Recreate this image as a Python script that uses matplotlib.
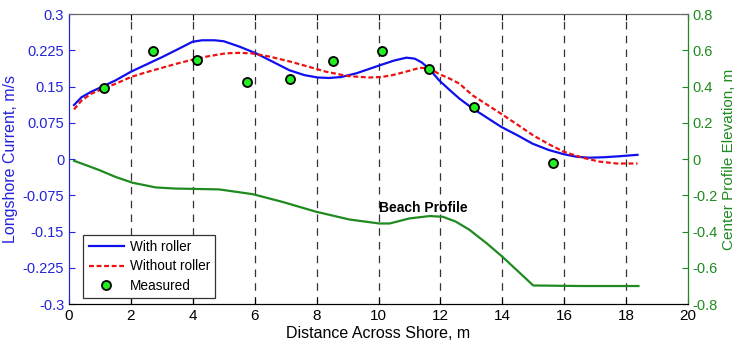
import matplotlib.pyplot as plt
import numpy as np

plt.rcParams['font.family'] = ['Liberation Sans', 'DejaVu Sans']

# with roller (blue)
x_roll = [0.16, 0.4, 0.7, 1.07, 1.5, 2.0, 2.5, 3.0, 3.5, 3.99, 4.3, 4.7, 5.0, 5.5, 6.04, 6.6, 7.12, 7.6, 8.03, 8.4, 8.8, 9.3,
          10.03, 10.5, 10.9, 11.17, 11.4, 11.65, 11.96, 12.3, 12.62, 13.04, 13.5, 13.96, 14.5, 14.98, 15.5, 16.0, 16.4, 16.8,
          17.3, 17.78, 18.37]
v_roll = [0.112, 0.128, 0.139, 0.150, 0.163, 0.181, 0.196, 0.211, 0.227, 0.243, 0.246, 0.246, 0.244, 0.233, 0.219, 0.201,
          0.184, 0.174, 0.169, 0.168, 0.170, 0.178, 0.194, 0.204, 0.210, 0.208, 0.200, 0.186, 0.163, 0.143, 0.125, 0.105,
          0.086, 0.067, 0.049, 0.032, 0.019, 0.010, 0.005, 0.003, 0.004, 0.006, 0.009]

# without roller (red dashed)
x_noroll = [0.16, 0.4, 0.7, 1.07, 1.5, 2.0, 2.5, 3.0, 3.5, 4.0, 4.5, 5.07, 5.5, 5.9, 6.5, 7.2, 7.7, 8.3, 9.0, 9.7, 10.1,
            10.46, 11.0, 11.33, 11.65, 11.96, 12.29, 12.62, 13.04, 13.5, 13.96, 14.5, 14.98, 15.5, 16.0, 16.6, 17.13,
            17.7, 18.37]
v_noroll = [0.103, 0.121, 0.135, 0.145, 0.156, 0.170, 0.180, 0.189, 0.198, 0.206, 0.213, 0.219, 0.220, 0.219, 0.212,
            0.201, 0.192, 0.181, 0.172, 0.169, 0.170, 0.174, 0.183, 0.189, 0.188, 0.176, 0.167, 0.156, 0.132, 0.113,
            0.094, 0.071, 0.050, 0.031, 0.015, 0.003, -0.005, -0.009, -0.009]

# measured (green dots)
x_meas = [1.13, 2.72, 4.12, 5.74, 7.14, 8.54, 10.12, 11.63, 13.1, 15.63]
v_meas = [0.147, 0.223, 0.206, 0.159, 0.165, 0.203, 0.223, 0.186, 0.107, -0.007]

# beach profile (right axis)
x_prof = [0.16, 0.5, 0.97, 1.5, 2.05, 2.8, 3.4, 4.0, 4.85, 5.93, 6.9, 7.98, 9.06, 10.03, 10.36, 11.0, 11.65, 12.08,
          12.5, 12.94, 13.5, 14.0, 15.0, 16.5, 18.4]
z_prof = [-0.009, -0.03, -0.06, -0.098, -0.13, -0.156, -0.162, -0.164, -0.167, -0.193, -0.236, -0.29, -0.333, -0.355,
          -0.355, -0.327, -0.314, -0.318, -0.345, -0.39, -0.465, -0.538, -0.697, -0.700, -0.700]

blue = '#2323d8'
green = '#1f8a1f'

fig = plt.figure(figsize=(7.35, 3.46), dpi=100)
ax = fig.add_axes([0.094, 0.121, 0.842, 0.838])
ax2 = ax.twinx()

for xv in range(2, 20, 2):
    ax.axvline(xv, color='#333333', ls=(0, (6, 5)), lw=0.9, zorder=0)

ax.plot(x_roll, v_roll, color='#1010ee', lw=1.6, label='With roller')
ax.plot(x_noroll, v_noroll, color='#ee1111', lw=1.6, ls=(0, (2.2, 1.2)), label='Without roller')
ax.plot(x_meas, v_meas, 'o', ms=6.5, mfc='#22ee22', mec='black', mew=1.3, label='Measured')
ax2.plot(x_prof, z_prof, color=green, lw=1.6)

ax.text(10.0, -0.101, 'Beach Profile', fontsize=10, fontweight='bold', va='center', ha='left')

ax.set_xlim(0, 20)
ax.set_ylim(-0.3, 0.3)
ax.set_xticks(range(0, 21, 2))
ax.set_yticks([-0.3, -0.225, -0.15, -0.075, 0, 0.075, 0.15, 0.225, 0.3])
ax.set_yticklabels(['-0.3', '-0.225', '-0.15', '-0.075', '0', '0.075', '0.15', '0.225', '0.3'])
ax2.set_ylim(-0.8, 0.8)
ax2.set_yticks([-0.8, -0.6, -0.4, -0.2, 0, 0.2, 0.4, 0.6, 0.8])
ax2.set_yticklabels(['-0.8', '-0.6', '-0.4', '-0.2', '0', '0.2', '0.4', '0.6', '0.8'])

ax.set_xlabel('Distance Across Shore, m', fontsize=11.5, labelpad=2)
ax.set_ylabel('Longshore Current, m/s', fontsize=11.5, color=blue, labelpad=3)
ax2.set_ylabel('Center Profile Elevation, m', fontsize=11, color=green, labelpad=3)

ax.tick_params(axis='x', direction='in', labelsize=11, length=4, top=True)
ax.tick_params(axis='y', direction='in', labelsize=10.5, length=4, colors=blue)
ax2.tick_params(axis='y', direction='in', labelsize=10.5, length=4, colors=green)
ax.spines['left'].set_color(blue)
ax2.spines['left'].set_color(blue)
ax2.spines['right'].set_color(green)
ax.spines['top'].set_color('#666666')
ax2.spines['top'].set_color('#666666')

leg = ax.legend(loc='lower left', bbox_to_anchor=(0.023, 0.02), borderaxespad=0, fontsize=9.8, fancybox=False,
                edgecolor='#333333', framealpha=1, handlelength=2.6, handletextpad=0.4, borderpad=0.4,
                labelspacing=0.4)
leg.get_frame().set_linewidth(0.9)

fig.savefig('out.png', dpi=100)
